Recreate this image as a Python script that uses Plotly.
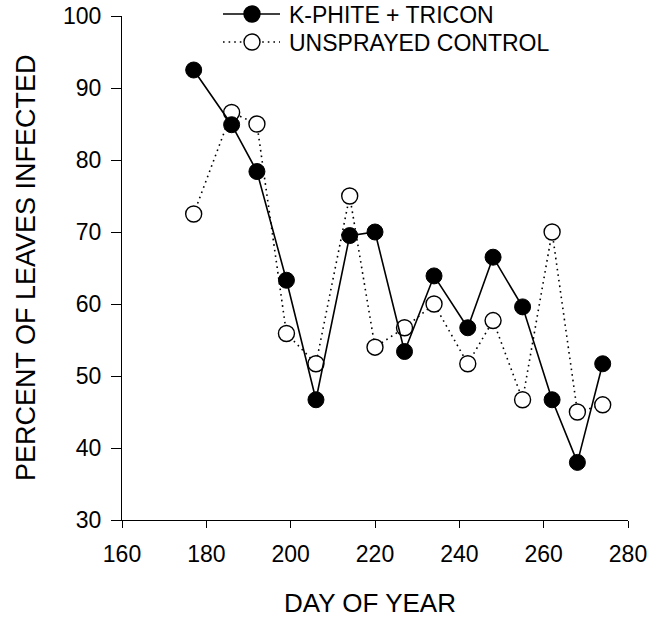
import plotly.graph_objects as go

# Sampling days (day of year)
days = [177, 186, 192, 199, 206, 214, 220, 227, 234, 242, 248, 255, 262, 268, 274]

# Percent of leaves infected
kphite_tricon = [92.5, 84.9, 78.4, 63.3, 46.7, 69.5, 70.0, 53.4, 63.9, 56.7, 66.5, 59.6, 46.7, 38.0, 51.7]
unsprayed_control = [72.5, 86.6, 85.0, 55.9, 51.7, 75.0, 54.0, 56.7, 60.0, 51.7, 57.7, 46.7, 70.0, 45.0, 46.0]

series_names = ["K-PHITE + TRICON", "UNSPRAYED CONTROL"]

x_ticks = [160, 180, 200, 220, 240, 260, 280]
y_ticks = [30, 40, 50, 60, 70, 80, 90, 100]

FONT = "Liberation Sans, Arial, sans-serif"
DOTS = "1.6px,4px"

# plot-area geometry in pixels (used to place the key in paper units)
W, H = 660, 620
L, R, T, B = 122, 32, 16, 100
PW, PH = W - L - R, H - T - B


def px(xp):
    return (xp - L) / PW


def py(yp):
    return (H - B - yp) / PH


fig = go.Figure()

fig.add_trace(go.Scatter(
    x=days, y=unsprayed_control,
    mode="lines+markers",
    name=series_names[1],
    line=dict(color="black", width=1.6, dash=DOTS),
    marker=dict(symbol="circle", size=16, color="white",
                line=dict(color="black", width=1.4)),
    cliponaxis=False,
    showlegend=False,
))

fig.add_trace(go.Scatter(
    x=days, y=kphite_tricon,
    mode="lines+markers",
    name=series_names[0],
    line=dict(color="black", width=1.6),
    marker=dict(symbol="circle", size=16, color="black",
                line=dict(color="black", width=1)),
    cliponaxis=False,
    showlegend=False,
))

# key: sample line, sample symbol, label
shapes = []
annotations = []
key_rows = [(14, "solid", "black"), (42, DOTS, "white")]
for (row_y, dash, fill), label in zip(key_rows, series_names):
    shapes.append(dict(type="line", xref="paper", yref="paper",
                       x0=px(223), x1=px(280), y0=py(row_y), y1=py(row_y),
                       line=dict(color="black", width=1.6, dash=dash)))
    shapes.append(dict(type="circle", xref="paper", yref="paper",
                       x0=px(252 - 8), x1=px(252 + 8),
                       y0=py(row_y + 8), y1=py(row_y - 8),
                       fillcolor=fill, line=dict(color="black", width=1.4)))
    annotations.append(dict(text=label, xref="paper", yref="paper",
                            x=px(287), y=py(row_y + 1),
                            xanchor="left", yanchor="middle",
                            showarrow=False, font=dict(size=23)))

annotations += [
    dict(text="DAY OF YEAR", xref="paper", yref="paper",
         x=px(370), y=py(603), xanchor="center", yanchor="middle",
         showarrow=False, font=dict(size=26)),
    dict(text="PERCENT OF LEAVES INFECTED", xref="paper", yref="paper",
         x=px(26), y=py(268), xanchor="center", yanchor="middle",
         textangle=-90, showarrow=False, font=dict(size=27)),
]

fig.update_layout(
    width=W, height=H,
    margin=dict(l=L, r=R, t=T, b=B, autoexpand=False),
    paper_bgcolor="white",
    plot_bgcolor="white",
    font=dict(family=FONT, size=23, color="black"),
    showlegend=False,
    xaxis=dict(
        range=[160, 280],
        tickvals=x_ticks,
        ticks="outside", ticklen=7, tickwidth=1.2, tickcolor="black",
        showline=True, linecolor="black", linewidth=1.2,
        showgrid=False, zeroline=False,
        tickfont=dict(size=23),
        ticklabelstandoff=6,
        automargin=False,
    ),
    yaxis=dict(
        range=[30, 100],
        tickvals=y_ticks,
        ticks="outside", ticklen=10, tickwidth=1.2, tickcolor="black",
        showline=True, linecolor="black", linewidth=1.2,
        showgrid=False, zeroline=False,
        tickfont=dict(size=23),
        ticklabelstandoff=5,
        automargin=False,
    ),
    shapes=shapes,
    annotations=annotations,
)

fig.write_html("out.html")
